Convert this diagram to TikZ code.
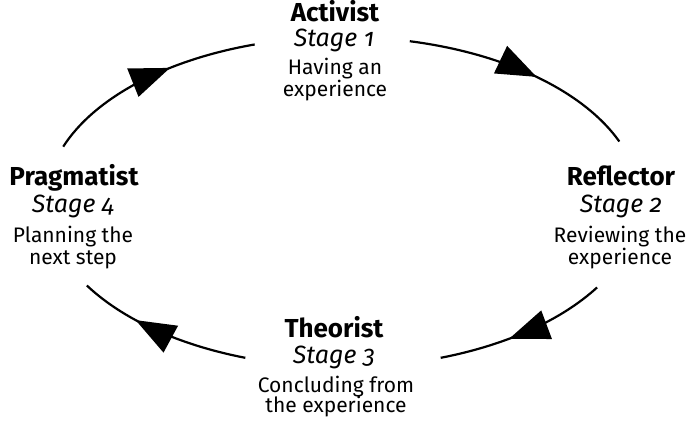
\documentclass[tikz,border=0pt]{standalone}
\usepackage{fontspec}
\setmainfont{Fira Sans}[Numbers=OldStyle]
\usetikzlibrary{arrows.meta,decorations.markings,calc}
\tikzset{
  cyc/.style={line width=2.2pt},
  tipmark/.style={postaction={decorate},decoration={markings,
      mark=at position #1 with {\arrow{Triangle[length=40pt,width=30pt]}}}},
  ttl/.style={anchor=base,inner sep=0pt,font=\fontsize{26pt}{26pt}\selectfont\bfseries},
  stg/.style={anchor=base,inner sep=0pt,font=\fontsize{25pt}{25pt}\selectfont\itshape},
  dsc/.style={anchor=base,inner sep=0pt,font=\fontsize{21pt}{21pt}\selectfont},
}
\begin{document}
\begin{tikzpicture}[x=1pt,y=1pt]
\useasboundingbox (0,0) rectangle (698,426);
\coordinate (O) at (343,224);
% arc end points on the ellipse
\coordinate (a1) at ($(O)+(160.4:297pt and 165pt)$);
\coordinate (a2) at ($(O)+(77:297pt and 165pt)$);
\coordinate (a3) at ($(O)+(-31.2:297pt and 165pt)$);
\coordinate (a4) at ($(O)+(250.8:297pt and 165pt)$);
% arcs (clockwise cycle)
\draw[cyc,tipmark=0.605] (a1) arc[start angle=160.4,end angle=107.3,x radius=297pt,y radius=165pt];
\draw[cyc,tipmark=0.555] (a2) arc[start angle=77,end angle=21.5,x radius=297pt,y radius=165pt];
\draw[cyc,tipmark=0.59] (a3) arc[start angle=-31.2,end angle=-70.8,x radius=297pt,y radius=165pt];
\draw[cyc,tipmark=0.66] (a4) arc[start angle=250.8,end angle=210.4,x radius=297pt,y radius=165pt];
% Activist
\node[ttl] (t1) at (335,404) {Activist};
\node[stg] (s1) at (334,379.5) {Stage 1};
\node[dsc] (d1a) at (335,351) {Having an};
\node[dsc] (d1b) at (335,329) {experience};
% Reflector
\node[ttl] (t2) at (621,240) {Reflector};
\node[stg] (s2) at (621,213) {Stage 2};
\node[dsc] (d2a) at (620,183) {Reviewing the};
\node[dsc] (d2b) at (620,162) {experience};
% Theorist
\node[ttl] (t3) at (334,89) {Theorist};
\node[stg] (s3) at (334,63) {Stage 3};
\node[dsc] (d3a) at (336,34) {Concluding from};
\node[dsc] (d3b) at (336,14) {the experience};
% Pragmatist
\node[ttl] (t4) at (74,240) {Pragmatist};
\node[stg] (s4) at (73,213) {Stage 4};
\node[dsc] (d4a) at (73,183) {Planning the};
\node[dsc] (d4b) at (73,162) {next step};
\end{tikzpicture}
\end{document}
